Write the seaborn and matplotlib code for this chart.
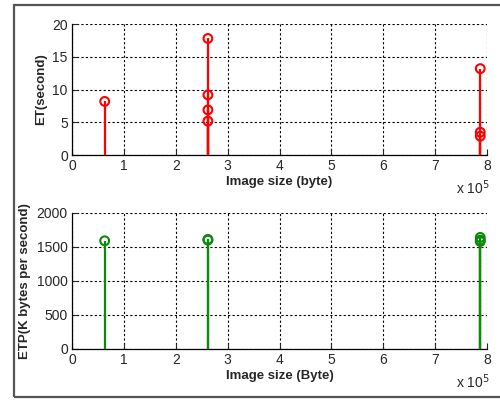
import matplotlib
matplotlib.use("Agg")
import matplotlib.pyplot as plt
import seaborn as sns
import pandas as pd
from matplotlib.patches import Rectangle
from matplotlib.ticker import FuncFormatter, MultipleLocator

# image sizes in bytes and the measured values
et_size = [63000, 262000, 262000, 262000, 262000, 787000, 787000, 787000]
et_sec = [8.2, 17.8, 9.2, 6.9, 5.2, 13.2, 3.5, 2.9]
etp_size = [63000, 262000, 262000, 787000, 787000, 787000]
etp_kbps = [1590, 1610, 1600, 1640, 1600, 1580]

sns.set_style("white")
plt.rcParams['font.family'] = ['Liberation Sans', 'DejaVu Sans']

fig = plt.figure(figsize=(5.0, 4.01), dpi=100)
fig.patches.append(Rectangle((0.028, 0.01), 1.2, 0.978, transform=fig.transFigure,
                             fill=False, edgecolor='#555555', linewidth=1.6))


def stem_panel(ax, xs, ys, color, ylim, ystep, ylabel, xlabel):
    df = pd.DataFrame({'x': xs, 'y': ys})
    ax.vlines(df['x'], 0, df['y'], color=color, linewidth=1.6, zorder=3)
    sns.scatterplot(data=df, x='x', y='y', ax=ax, marker='o', s=40,
                    facecolor='none', edgecolor=color, linewidth=1.5, zorder=4)
    ax.set_xlim(0, 8e5)
    ax.set_ylim(*ylim)
    ax.xaxis.set_major_locator(MultipleLocator(1e5))
    ax.xaxis.set_major_formatter(FuncFormatter(lambda v, p: f"{v / 1e5:g}"))
    ax.yaxis.set_major_locator(MultipleLocator(ystep))
    ax.grid(True, color='black', linestyle=(0, (2, 2)), linewidth=0.8)
    ax.set_axisbelow(True)
    ax.spines['top'].set_visible(False)
    ax.spines['right'].set_visible(False)
    for s in ('left', 'bottom'):
        ax.spines[s].set_color('black')
        ax.spines[s].set_linewidth(0.9)
    ax.tick_params(direction='in', length=4, labelsize=10, pad=3,
                   top=False, right=False, bottom=True, left=True)
    ax.set_xlabel(xlabel, fontsize=9.5, fontweight='bold', labelpad=2)
    ax.set_ylabel(ylabel, fontsize=9.5, fontweight='bold', labelpad=4)
    ax.annotate(r"x 10$^5$", xy=(1.0, 0), xycoords='axes fraction',
                xytext=(2, -17), textcoords='offset points',
                ha='right', va='top', fontsize=10)


ax1 = fig.add_axes([0.144, 0.613, 0.830, 0.327])
stem_panel(ax1, et_size, et_sec, '#ff0000', (0, 20), 5,
           'ET(second)', 'Image size (byte)')

ax2 = fig.add_axes([0.144, 0.130, 0.830, 0.339])
stem_panel(ax2, etp_size, etp_kbps, '#0a8a0a', (0, 2000), 500,
           'ETP(K bytes per second)', 'Image size (Byte)')

fig.savefig('out.png', dpi=100)
